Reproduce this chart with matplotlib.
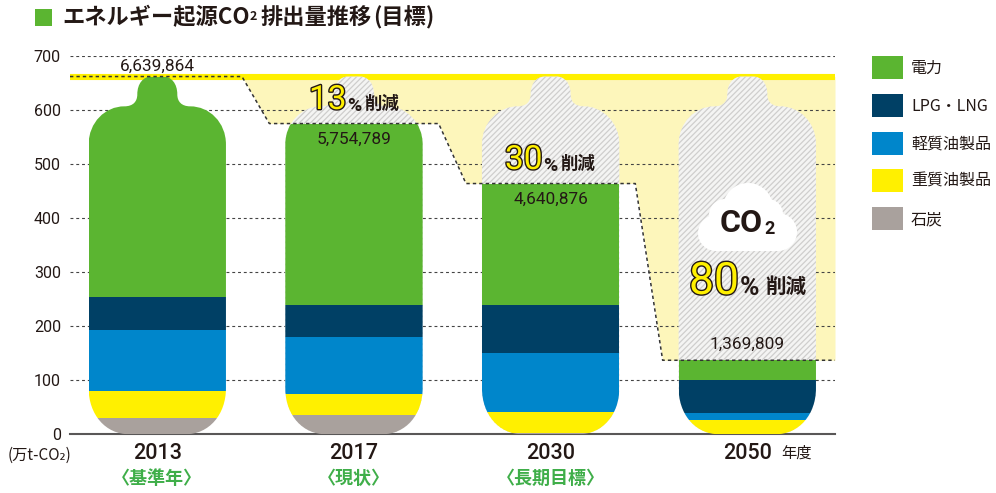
import matplotlib
matplotlib.use('Agg')
import matplotlib.pyplot as plt
import matplotlib.patheffects as pe
from matplotlib.patches import PathPatch, Rectangle, Circle
from matplotlib.path import Path

years = ['2013', '2017', '2030', '2050']
notes = ['〈基準年〉', '〈現状〉', '〈長期目標〉']
labels = ['電力', 'LPG・LNG', '軽質油製品', '重質油製品', '石炭']
colors = ['#5bb531', '#004065', '#0086cb', '#fff000', '#a9a19d']
coal = [30, 36, 2, 0]
heavy = [50, 39, 39, 26]
light = [113, 105, 109, 13]
lpg = [61, 60, 90, 61]
power = [408, 335, 224, 37]
totals = [662, 575, 464, 137]
value_labels = ['6,639,864', '5,754,789', '4,640,876', '1,369,809']
yticks = [0, 100, 200, 300, 400, 500, 600, 700]

JP = ['Noto Sans CJK JP', 'DejaVu Sans']
NUM = 'Roboto'
DARK = '#231815'
W, H = 996, 493
PX_X = 196.67  # pixels per category
PX_Y = 0.5405  # pixels per value unit

fig = plt.figure(figsize=(W / 100, H / 100), dpi=100)
ax = fig.add_axes([70 / W, (H - 434.3) / H, 765 / W, 378.3 / H])
ax.set_xlim((70 - 157.3) / PX_X, (835 - 157.3) / PX_X)
ax.set_ylim(0, 700)


def bottle(cx):
    # left half in pixels from the centre / baseline, mirrored for the right
    def p(dx, h):
        return (cx + dx / PX_X, h / PX_Y)
    hw = 68.65
    top = totals[0] * PX_Y
    verts = [p(-28, 0),
             p(-52, 0), p(-hw, 20), p(-hw, 46),
             p(-hw, 290),
             p(-hw, 312), p(-52, 328), p(-33, 328),
             p(-24, 328), p(-20, 333), p(-20, 340),
             p(-20, top - 7), p(-14, top), p(-6, top),
             p(6, top),
             p(14, top), p(20, top - 7), p(20, 340),
             p(20, 333), p(24, 328), p(33, 328),
             p(52, 328), p(hw, 312), p(hw, 290),
             p(hw, 46),
             p(hw, 20), p(52, 0), p(28, 0),
             p(-28, 0)]
    codes = [Path.MOVETO, Path.CURVE4, Path.CURVE4, Path.CURVE4, Path.LINETO,
             Path.CURVE4, Path.CURVE4, Path.CURVE4,
             Path.CURVE4, Path.CURVE4, Path.CURVE4,
             Path.CURVE4, Path.CURVE4, Path.CURVE4, Path.LINETO,
             Path.CURVE4, Path.CURVE4, Path.CURVE4,
             Path.CURVE4, Path.CURVE4, Path.CURVE4,
             Path.CURVE4, Path.CURVE4, Path.CURVE4, Path.LINETO,
             Path.CURVE4, Path.CURVE4, Path.CURVE4, Path.CLOSEPOLY]
    return Path(verts, codes)


xpos = list(range(len(years)))
bw = 137.3 / PX_X
gap = 16 / PX_X

# cream area and the stepped dashed line
x0, x1 = ax.get_xlim()
step_x = [x0]
step_y = [totals[0]]
for i in xpos[:-1]:
    step_x += [i + bw / 2 + gap, i + 1 - bw / 2 - gap]
    step_y += [totals[i], totals[i + 1]]
step_x.append(x1)
step_y.append(totals[-1])
ax.fill_between(step_x, step_y, totals[0], color='#fdf6bb', lw=0, zorder=0.2)
ax.axhline(totals[0], color='#fff000', lw=4.4, solid_capstyle='butt', zorder=1)

plt.rcParams['hatch.linewidth'] = 0.9
for i in xpos[1:]:
    ax.add_patch(PathPatch(bottle(i), facecolor='#f4f4f3', edgecolor='#cfcecd',
                           hatch='//////', lw=0, zorder=2))

bottom = [0, 0, 0, 0]
for vals, col in zip([coal, heavy, light, lpg, power], colors[::-1]):
    bars = ax.bar(xpos, vals, bw, bottom=bottom, color=col, lw=0, zorder=3)
    for i, b in enumerate(bars):
        pp = PathPatch(bottle(i), transform=ax.transData)
        b.set_clip_path(pp)
    bottom = [a + b for a, b in zip(bottom, vals)]

ax.plot(step_x, step_y, color='#333333', lw=1.1, ls=(0, (2.2, 2.0)), zorder=6)

ax.yaxis.grid(True, color='#444444', lw=0.8, ls=(0, (2.6, 2.6)))
ax.set_axisbelow(True)
for s in ['top', 'left', 'right']:
    ax.spines[s].set_visible(False)
ax.spines['bottom'].set_color('#595757')
ax.spines['bottom'].set_linewidth(1.5)
ax.spines['bottom'].set_zorder(2.5)
ax.set_yticks(yticks)
ax.set_yticklabels([str(v) for v in yticks], fontsize=11.5, color=DARK, family=NUM)
ax.tick_params(axis='y', length=0, pad=6.5)
ax.set_xticks(xpos)
ax.set_xticklabels(years, fontsize=15.5, color=DARK, family=NUM, fontweight='medium')
ax.tick_params(axis='x', length=0, pad=6.5)

value_offs = [10, -16, -16, 16]  # px
for i, lab in enumerate(value_labels):
    ax.text(i, totals[i] + value_offs[i] / PX_Y, lab, ha='center', va='center',
            fontsize=12.4, color=DARK, family=NUM, zorder=7)

# overlay in pixel coordinates for title, legend, annotations
ov = fig.add_axes([0, 0, 1, 1], zorder=5)
ov.set_xlim(0, W)
ov.set_ylim(H, 0)
ov.axis('off')
ov.patch.set_visible(False)

ov.add_patch(Rectangle((35, 9), 17, 17, color=colors[0], lw=0))
ov.text(62, 18, 'エネルギー起源CO', fontsize=16, fontweight='bold', color=DARK,
        family=JP, va='center', ha='left')
ov.text(250, 17, '2', fontsize=9, fontweight='bold', color=DARK, family=JP,
        va='center', ha='left')
ov.text(261, 18, '排出量推移', fontsize=16, fontweight='bold', color=DARK,
        family=JP, va='center', ha='left')
ov.text(373, 18, '(目標)', fontsize=16, fontweight='bold', color=DARK,
        family=JP, va='center', ha='left')

leg_y = [67.5, 105.5, 143.5, 180.5, 218.5]
for y, lab, col in zip(leg_y, labels, colors):
    ov.add_patch(Rectangle((872, y - 11.5), 30.7, 23, color=col, lw=0))
    ov.text(911, y + 1, lab, fontsize=11.5, color=DARK, family=JP, va='center', ha='left')

for i, n in enumerate(notes):
    ov.text(157.3 + i * PX_X, 478, n, fontsize=13, color='#3fae49', family=JP,
            fontweight='bold', ha='center', va='center')
ov.text(781, 453, '年度', fontsize=11, color=DARK, family=JP, va='center', ha='left')
ov.text(8, 455, '(万t-CO₂)', fontsize=11, color=DARK, family=JP, va='center', ha='left')

outline = [pe.Stroke(linewidth=2.0, foreground=DARK), pe.Normal()]
for x, y, num, size, pct_x, pct_size, jp_x, jp_size in [
        (309, 100, '13', 24, 347, 14, 364, 12.5),
        (505, 160, '30', 24, 543, 14, 560, 12.5),
        (689, 282, '80', 32, 740, 19, 765, 14.8)]:
    ov.text(x, y, num, fontsize=size, color='#fff000', family=NUM,
            va='center', ha='left', path_effects=outline)
    ov.text(pct_x, y + 6, '%', fontsize=pct_size, fontweight='bold', color=DARK, family=NUM,
            va='center', ha='left')
    ov.text(jp_x, y + 4, '削減', fontsize=jp_size, fontweight='bold', color=DARK, family=JP,
            va='center', ha='left')

# cloud
for cx, cy, r in [(748, 208, 25), (725, 215, 16), (716, 233, 18), (778, 232, 19),
                  (768, 214, 15)]:
    ov.add_patch(Circle((cx, cy), r, color='white', lw=0))
ov.add_patch(Rectangle((716, 215), 62, 36, color='white', lw=0))
ov.text(720, 223, 'CO', fontsize=23, fontweight='bold', color=DARK, family=NUM,
        va='center', ha='left')
ov.text(764, 229, '2', fontsize=13, fontweight='bold', color=DARK, family=NUM,
        va='center', ha='left')

fig.savefig('out.png', dpi=100)
